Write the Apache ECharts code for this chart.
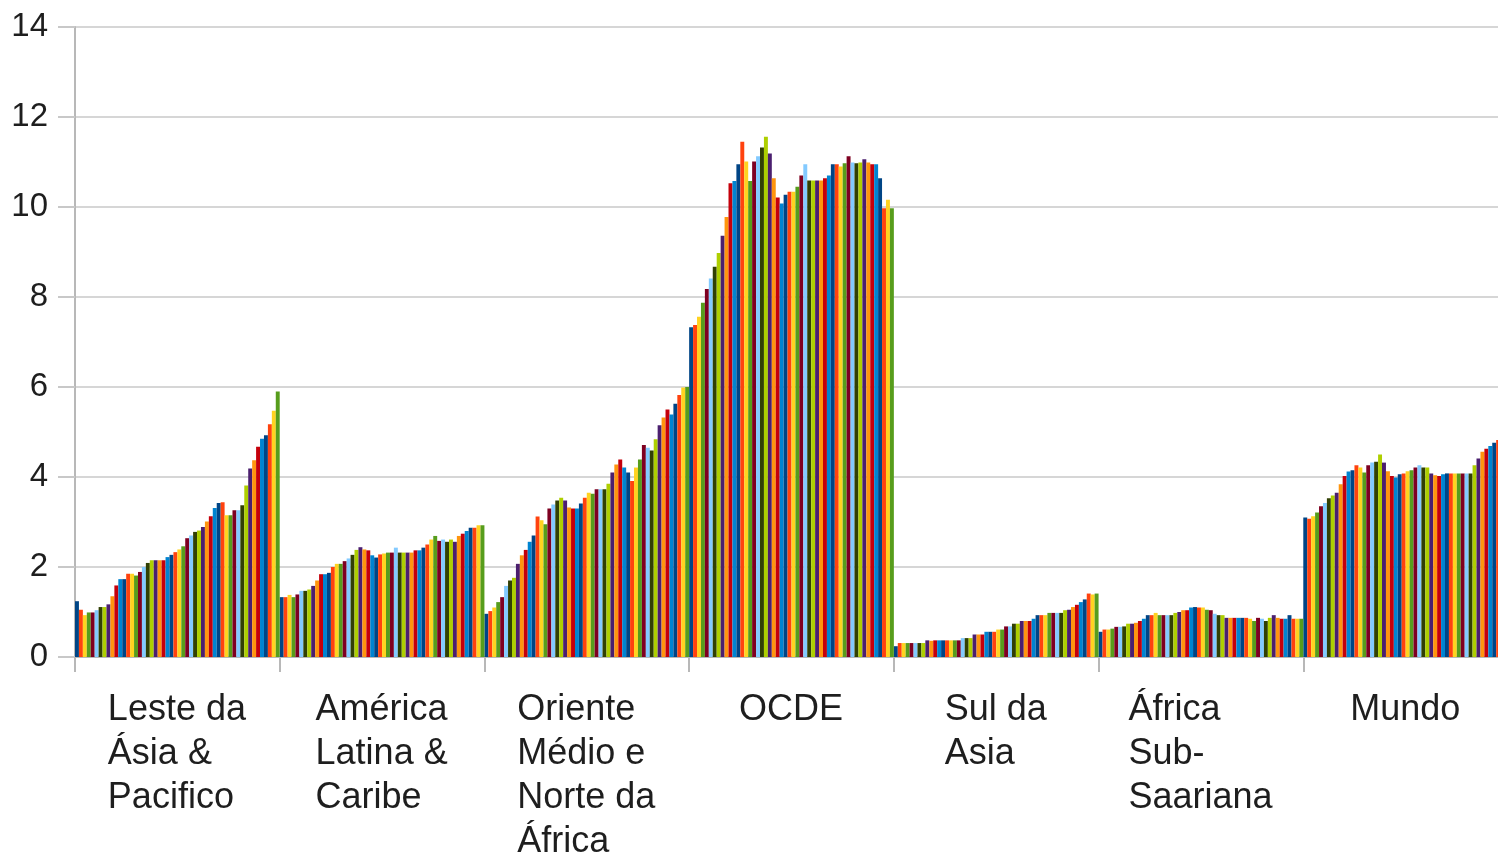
<!DOCTYPE html>
<html>
<head>
<meta charset="utf-8">
<script src="https://cdn.jsdelivr.net/npm/echarts@6/dist/echarts.min.js"></script>
<style>
html,body{margin:0;padding:0;background:#fff;overflow:hidden;}
#chart{width:1498px;height:853px;}
</style>
</head>
<body>
<div id="chart"></div>
<script>
// Categories (regions)
const categories = [
  "Leste da\nÁsia &\nPacifico",
  "América\nLatina &\nCaribe",
  "Oriente\nMédio e\nNorte da\nÁfrica",
  "OCDE",
  "Sul da\nAsia",
  "África\nSub-\nSaariana",
  "Mundo"
];
// Series = years 1960..2011
const years = [];
for (let y = 1960; y <= 2011; y++) years.push(String(y));

// Values per region, one per year
const lesteAsia = [1.24,1.05,0.93,0.99,0.99,1.04,1.11,1.11,1.17,1.35,1.59,1.73,1.73,1.85,1.85,1.81,1.89,2.00,2.09,2.15,2.15,2.15,2.15,2.22,2.27,2.33,2.39,2.46,2.64,2.70,2.78,2.81,2.89,3.01,3.13,3.31,3.42,3.44,3.15,3.15,3.26,3.26,3.37,3.81,4.19,4.37,4.67,4.85,4.93,5.17,5.47,5.90];
const americaLatina = [1.33,1.33,1.38,1.33,1.39,1.47,1.47,1.50,1.58,1.70,1.84,1.84,1.87,2.00,2.07,2.07,2.13,2.19,2.27,2.38,2.44,2.39,2.37,2.26,2.21,2.28,2.30,2.32,2.32,2.43,2.32,2.32,2.32,2.32,2.37,2.37,2.43,2.50,2.61,2.69,2.58,2.61,2.56,2.61,2.56,2.69,2.74,2.80,2.87,2.87,2.93,2.93];
const orienteMedio = [0.96,1.02,1.10,1.22,1.33,1.58,1.70,1.76,2.07,2.26,2.38,2.56,2.70,3.12,3.04,2.95,3.30,3.39,3.48,3.54,3.48,3.32,3.30,3.30,3.41,3.54,3.65,3.63,3.73,3.73,3.73,3.85,4.10,4.28,4.39,4.21,4.10,3.91,4.21,4.39,4.71,4.65,4.59,4.84,5.15,5.32,5.50,5.39,5.63,5.82,5.99,6.00];
const ocde = [7.33,7.38,7.56,7.87,8.18,8.41,8.67,8.98,9.36,9.78,10.53,10.58,10.95,11.45,11.01,10.58,11.01,11.13,11.32,11.56,11.19,10.64,10.21,10.08,10.27,10.34,10.34,10.45,10.70,10.95,10.59,10.59,10.59,10.59,10.64,10.70,10.95,10.95,10.90,10.97,11.13,10.99,10.97,10.99,11.06,10.99,10.95,10.95,10.64,9.97,10.16,9.97];
const sulAsia = [0.24,0.31,0.31,0.31,0.31,0.31,0.31,0.31,0.37,0.36,0.37,0.37,0.37,0.37,0.37,0.37,0.37,0.42,0.42,0.42,0.50,0.50,0.50,0.56,0.56,0.56,0.61,0.61,0.68,0.68,0.74,0.74,0.80,0.80,0.80,0.85,0.93,0.93,0.93,0.98,0.98,0.98,0.98,1.04,1.05,1.11,1.16,1.22,1.28,1.41,1.39,1.41];
const africaSub = [0.56,0.61,0.61,0.63,0.67,0.67,0.68,0.74,0.74,0.76,0.80,0.85,0.93,0.93,0.98,0.93,0.93,0.93,0.93,0.98,1.00,1.04,1.04,1.10,1.11,1.10,1.10,1.05,1.04,0.96,0.93,0.93,0.87,0.87,0.87,0.87,0.87,0.87,0.85,0.80,0.87,0.85,0.80,0.87,0.93,0.87,0.85,0.85,0.93,0.85,0.85,0.85];
const mundo = [3.10,3.07,3.13,3.21,3.35,3.42,3.53,3.59,3.65,3.84,4.02,4.12,4.15,4.26,4.21,4.10,4.26,4.32,4.34,4.50,4.32,4.13,4.02,3.99,4.06,4.08,4.13,4.15,4.21,4.26,4.21,4.21,4.08,4.04,4.02,4.06,4.08,4.08,4.08,4.08,4.08,4.08,4.08,4.26,4.41,4.56,4.63,4.69,4.76,4.82,4.86,4.90];

const yTicks = [0,2,4,6,8,10,12,14];

const palette = ['#004586','#ff420e','#ffd320','#579d1c','#7e0021','#83caff','#314004','#aecf00','#4b1f6f','#ff950e','#c5000b','#0084d1'];

const regions = [lesteAsia, americaLatina, orienteMedio, ocde, sulAsia, africaSub, mundo];

const FONT = '"Liberation Sans", Arial, sans-serif';
const XFS = 36;
// measure longest line of each category label for left-aligned blocks
const cv = document.createElement('canvas').getContext('2d');
cv.font = XFS + 'px ' + FONT;
const rich = {};
categories.forEach((c, i) => {
  const w = Math.max(...c.split('\n').map(l => cv.measureText(l).width));
  rich['r' + i] = {width: Math.ceil(w), align: 'left', fontSize: XFS, lineHeight: 44, fontFamily: FONT, color: '#1e1e1e'};
});

const series = years.map((yr, i) => ({
  name: yr,
  type: 'bar',
  data: regions.map(r => r[i]),
  itemStyle: {color: palette[i % palette.length]},
  barGap: '0%',
  barCategoryGap: '0%',
  animation: false
}));

const chart = echarts.init(document.getElementById('chart'), null, {renderer: 'canvas'});
chart.setOption({
  animation: false,
  backgroundColor: '#fff',
  grid: {left: 75, top: 27, height: 630, width: 1433, containLabel: false, outerBoundsMode: 'none'},
  xAxis: {
    type: 'category',
    data: categories,
    boundaryGap: true,
    axisLine: {lineStyle: {color: '#b8b8b8', width: 2}},
    axisTick: {show: true, length: 15, lineStyle: {color: '#b8b8b8', width: 2}},
    axisLabel: {
      interval: 0,
      margin: 31,
      formatter: (v, idx) => v.split('\n').map(l => '{r' + idx + '|' + l + '}').join('\n'),
      rich: rich
    },
    splitLine: {show: false}
  },
  yAxis: {
    type: 'value',
    min: 0, max: 14, interval: 2,
    axisLine: {show: true, lineStyle: {color: '#b8b8b8', width: 2}},
    axisTick: {show: true, length: 17, lineStyle: {color: '#c8c8c8', width: 2}},
    axisLabel: {
      margin: 27, fontSize: 33, color: '#1e1e1e', fontFamily: FONT,
      formatter: v => yTicks.includes(v) ? String(v) : ''
    },
    splitLine: {show: true, lineStyle: {color: '#d6d6d6', width: 2}}
  },
  series: series
});
</script>
</body>
</html>
